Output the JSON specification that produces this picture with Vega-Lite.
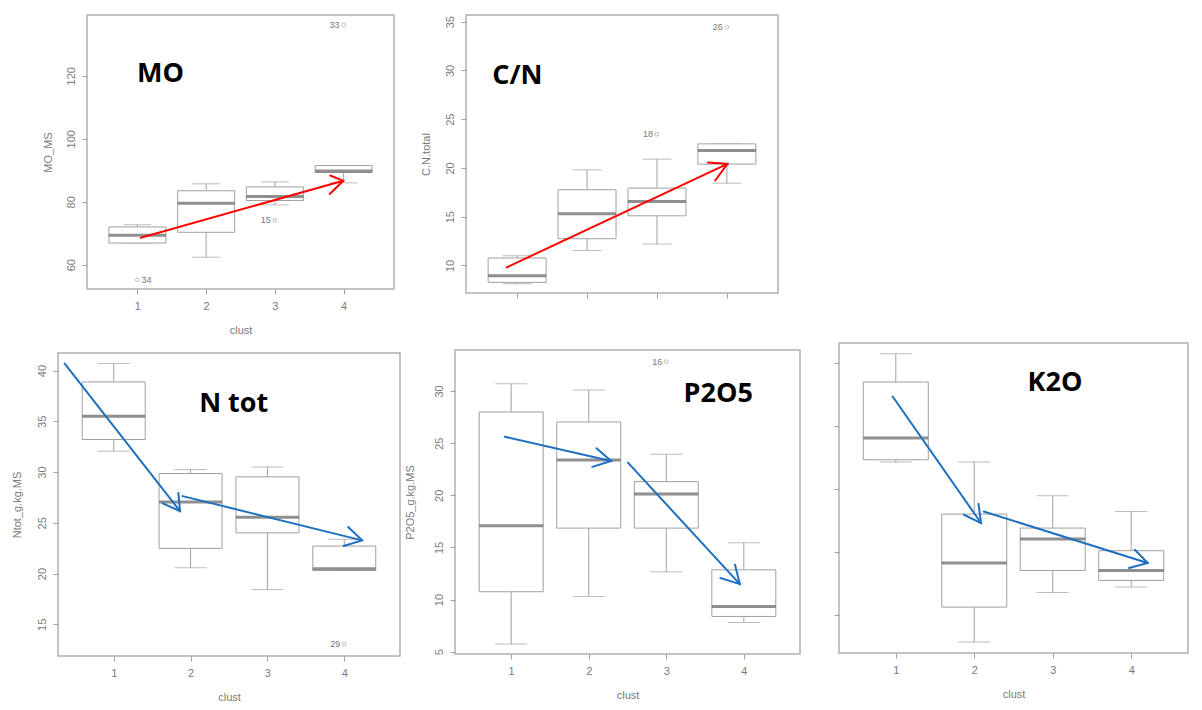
{
  "$schema": "https://vega.github.io/schema/vega-lite/v6.json",
  "padding": {"left": 10, "top": 14, "right": 5, "bottom": 5},
  "background": "white",
  "spacing": 6,
  "datasets": {
    "boxes": [
      {"panel": "MO", "clust": 1, "lower": 66.9, "q1": 66.9, "median": 69.4, "q3": 72.0, "upper": 72.7},
      {"panel": "MO", "clust": 2, "lower": 62.4, "q1": 70.3, "median": 79.5, "q3": 83.5, "upper": 85.7},
      {"panel": "MO", "clust": 3, "lower": 79.0, "q1": 80.4, "median": 81.7, "q3": 84.7, "upper": 86.3},
      {"panel": "MO", "clust": 4, "lower": 86.0, "q1": 89.3, "median": 89.8, "q3": 91.5, "upper": 91.5},
      {"panel": "CN", "clust": 1, "lower": 8.12, "q1": 8.26, "median": 8.94, "q3": 10.76, "upper": 10.99},
      {"panel": "CN", "clust": 2, "lower": 11.54, "q1": 12.74, "median": 15.30, "q3": 17.76, "upper": 19.81},
      {"panel": "CN", "clust": 3, "lower": 12.19, "q1": 15.09, "median": 16.56, "q3": 17.93, "upper": 20.90},
      {"panel": "CN", "clust": 4, "lower": 18.44, "q1": 20.39, "median": 21.78, "q3": 22.47, "upper": 22.47},
      {"panel": "NTOT", "clust": 1, "lower": 32.06, "q1": 33.21, "median": 35.50, "q3": 38.88, "upper": 40.69},
      {"panel": "NTOT", "clust": 2, "lower": 20.57, "q1": 22.48, "median": 27.04, "q3": 29.86, "upper": 30.26},
      {"panel": "NTOT", "clust": 3, "lower": 18.44, "q1": 24.01, "median": 25.56, "q3": 29.53, "upper": 30.51},
      {"panel": "NTOT", "clust": 4, "lower": 20.31, "q1": 20.31, "median": 20.47, "q3": 22.71, "upper": 23.37},
      {"panel": "P2O5", "clust": 1, "lower": 5.74, "q1": 10.75, "median": 17.07, "q3": 27.99, "upper": 30.70},
      {"panel": "P2O5", "clust": 2, "lower": 10.30, "q1": 16.85, "median": 23.39, "q3": 27.03, "upper": 30.10},
      {"panel": "P2O5", "clust": 3, "lower": 12.66, "q1": 16.85, "median": 20.13, "q3": 21.31, "upper": 23.94},
      {"panel": "P2O5", "clust": 4, "lower": 7.81, "q1": 8.38, "median": 9.34, "q3": 12.85, "upper": 15.44},
      {"panel": "K2O", "clust": 1, "lower": 17.14, "q1": 17.32, "median": 19.05, "q3": 23.50, "upper": 25.75},
      {"panel": "K2O", "clust": 2, "lower": 2.83, "q1": 5.61, "median": 9.11, "q3": 13.00, "upper": 17.14},
      {"panel": "K2O", "clust": 3, "lower": 6.77, "q1": 8.52, "median": 11.02, "q3": 11.89, "upper": 14.46},
      {"panel": "K2O", "clust": 4, "lower": 7.20, "q1": 7.73, "median": 8.52, "q3": 10.09, "upper": 13.21}
    ],
    "outliers": [
      {"panel": "MO", "clust": 4, "value": 136.2, "id": "33"},
      {"panel": "MO", "clust": 1, "value": 55.2, "id": "34"},
      {"panel": "MO", "clust": 3, "value": 74.1, "id": "15"},
      {"panel": "CN", "clust": 3, "value": 23.46, "id": "18"},
      {"panel": "CN", "clust": 4, "value": 34.43, "id": "26"},
      {"panel": "NTOT", "clust": 4, "value": 13.03, "id": "29"},
      {"panel": "P2O5", "clust": 3, "value": 32.81, "id": "16"}
    ],
    "arrows": [
      {"panel": "MO", "seg": "s1", "ord": 1, "x": 1.05, "y": 68.57},
      {"panel": "MO", "seg": "s1", "ord": 2, "x": 3.994, "y": 86.67},
      {"panel": "MO", "seg": "h1", "ord": 1, "x": 3.805, "y": 88.35},
      {"panel": "MO", "seg": "h1", "ord": 2, "x": 3.994, "y": 86.67},
      {"panel": "MO", "seg": "h1", "ord": 3, "x": 3.798, "y": 82.44},
      {"panel": "CN", "seg": "s1", "ord": 1, "x": 0.85, "y": 9.80},
      {"panel": "CN", "seg": "s1", "ord": 2, "x": 4.008, "y": 20.42},
      {"panel": "CN", "seg": "h1", "ord": 1, "x": 3.731, "y": 20.55},
      {"panel": "CN", "seg": "h1", "ord": 2, "x": 4.008, "y": 20.42},
      {"panel": "CN", "seg": "h1", "ord": 3, "x": 3.833, "y": 18.71},
      {"panel": "NTOT", "seg": "s1", "ord": 1, "x": 0.362, "y": 40.69},
      {"panel": "NTOT", "seg": "s1", "ord": 2, "x": 1.863, "y": 26.15},
      {"panel": "NTOT", "seg": "h1", "ord": 1, "x": 1.638, "y": 26.91},
      {"panel": "NTOT", "seg": "h1", "ord": 2, "x": 1.863, "y": 26.15},
      {"panel": "NTOT", "seg": "h1", "ord": 3, "x": 1.841, "y": 27.95},
      {"panel": "NTOT", "seg": "s2", "ord": 1, "x": 1.897, "y": 27.63},
      {"panel": "NTOT", "seg": "s2", "ord": 2, "x": 4.232, "y": 23.27},
      {"panel": "NTOT", "seg": "h2", "ord": 1, "x": 4.05, "y": 24.58},
      {"panel": "NTOT", "seg": "h2", "ord": 2, "x": 4.232, "y": 23.27},
      {"panel": "NTOT", "seg": "h2", "ord": 3, "x": 3.991, "y": 22.71},
      {"panel": "P2O5", "seg": "s1", "ord": 1, "x": 0.917, "y": 25.62},
      {"panel": "P2O5", "seg": "s1", "ord": 2, "x": 2.289, "y": 23.29},
      {"panel": "P2O5", "seg": "h1", "ord": 1, "x": 2.1, "y": 24.51},
      {"panel": "P2O5", "seg": "h1", "ord": 2, "x": 2.289, "y": 23.29},
      {"panel": "P2O5", "seg": "h1", "ord": 3, "x": 2.046, "y": 22.72},
      {"panel": "P2O5", "seg": "s2", "ord": 1, "x": 2.506, "y": 23.13},
      {"panel": "P2O5", "seg": "s2", "ord": 2, "x": 3.949, "y": 11.48},
      {"panel": "P2O5", "seg": "h2", "ord": 1, "x": 3.886, "y": 13.33},
      {"panel": "P2O5", "seg": "h2", "ord": 2, "x": 3.949, "y": 11.48},
      {"panel": "P2O5", "seg": "h2", "ord": 3, "x": 3.698, "y": 12.06},
      {"panel": "K2O", "seg": "s1", "ord": 1, "x": 0.96, "y": 22.35},
      {"panel": "K2O", "seg": "s1", "ord": 2, "x": 2.086, "y": 12.29},
      {"panel": "K2O", "seg": "h1", "ord": 1, "x": 1.868, "y": 12.95},
      {"panel": "K2O", "seg": "h1", "ord": 2, "x": 2.086, "y": 12.29},
      {"panel": "K2O", "seg": "h1", "ord": 3, "x": 2.054, "y": 13.82},
      {"panel": "K2O", "seg": "s2", "ord": 1, "x": 2.12, "y": 13.21},
      {"panel": "K2O", "seg": "s2", "ord": 2, "x": 4.21, "y": 9.11},
      {"panel": "K2O", "seg": "h2", "ord": 1, "x": 4.046, "y": 10.17},
      {"panel": "K2O", "seg": "h2", "ord": 2, "x": 4.21, "y": 9.11},
      {"panel": "K2O", "seg": "h2", "ord": 3, "x": 3.972, "y": 8.71}
    ]
  },
  "vconcat": [
    {
      "spacing": -18,
      "hconcat": [
        {"width": 1, "height": 1, "view": {"stroke": null}, "data": {"values": [{}]}, "mark": {"type": "text", "text": "", "fontSize": 0}, "encoding": {"x": {"value": 0}, "y": {"value": 0}}},
        {
          "spacing": 24,
          "hconcat": [
            {
              "width": 307, "height": 274,
              "layer": [
                {"data": {"name": "boxes"}, "transform": [{"filter": "datum.panel == 'MO'"}],
                 "layer": [
                  {"mark": {"type": "rule", "color": "#a0a0a0", "strokeWidth": 1},
                   "encoding": {
                     "x": {"field": "clust", "type": "quantitative", "scale": {"domain": [0.34, 4.66], "nice": false, "zero": false}, "axis": {"values": [1, 2, 3, 4], "format": "d", "title": "clust"}},
                     "y": {"field": "lower", "type": "quantitative", "scale": {"domain": [52.3, 139.3], "nice": false, "zero": false}, "axis": {"values": [60, 80, 100, 120], "title": "MO_MS", "titlePadding": 12}},
                     "y2": {"field": "upper"}}},
                  {"mark": {"type": "tick", "orient": "horizontal", "size": 28, "thickness": 1, "color": "#a0a0a0"},
                   "encoding": {"x": {"field": "clust", "type": "quantitative"}, "y": {"field": "lower", "type": "quantitative"}}},
                  {"mark": {"type": "tick", "orient": "horizontal", "size": 28, "thickness": 1, "color": "#a0a0a0"},
                   "encoding": {"x": {"field": "clust", "type": "quantitative"}, "y": {"field": "upper", "type": "quantitative"}}},
                  {"mark": {"type": "bar", "width": 57, "fill": "white", "stroke": "#a0a0a0", "strokeWidth": 1},
                   "encoding": {"x": {"field": "clust", "type": "quantitative"}, "y": {"field": "q1", "type": "quantitative"}, "y2": {"field": "q3"}}},
                  {"mark": {"type": "tick", "orient": "horizontal", "size": 57, "thickness": 3, "color": "#606060"},
                   "encoding": {"x": {"field": "clust", "type": "quantitative"}, "y": {"field": "median", "type": "quantitative"}}}
                 ]},
                {"data": {"name": "outliers"}, "transform": [{"filter": "datum.panel == 'MO'"}],
                 "layer": [
                  {"mark": {"type": "point", "shape": "circle", "filled": false, "size": 14, "color": "#8a8a8a", "strokeWidth": 0.8},
                   "encoding": {"x": {"field": "clust", "type": "quantitative"}, "y": {"field": "value", "type": "quantitative"}}},
                  {"transform": [{"filter": "datum.id != '34'"}],
                   "mark": {"type": "text", "align": "right", "baseline": "middle", "dx": -4, "fontSize": 9, "color": "#777777", "font": "Liberation Sans"},
                   "encoding": {"x": {"field": "clust", "type": "quantitative"}, "y": {"field": "value", "type": "quantitative"}, "text": {"field": "id"}}},
                  {"transform": [{"filter": "datum.id == '34'"}],
                   "mark": {"type": "text", "align": "left", "baseline": "middle", "dx": 4, "fontSize": 9, "color": "#777777", "font": "Liberation Sans"},
                   "encoding": {"x": {"field": "clust", "type": "quantitative"}, "y": {"field": "value", "type": "quantitative"}, "text": {"field": "id"}}}
                 ]},
                {"data": {"name": "arrows"}, "transform": [{"filter": "datum.panel == 'MO'"}],
                 "mark": {"type": "line", "color": "#ff0000", "strokeWidth": 2, "strokeCap": "round"},
                 "encoding": {"x": {"field": "x", "type": "quantitative"}, "y": {"field": "y", "type": "quantitative"}, "detail": {"field": "seg"}, "order": {"field": "ord"}}},
                {"data": {"values": [{}]},
                 "mark": {"type": "text", "text": "MO", "font": "Open Sans", "fontWeight": "bold", "fontSize": 27, "color": "#000000", "align": "center", "baseline": "middle"},
                 "encoding": {"x": {"datum": 1.337, "type": "quantitative"}, "y": {"datum": 120.5, "type": "quantitative"}}}
              ]
            },
            {
              "width": 312, "height": 278,
              "layer": [
                {"data": {"name": "boxes"}, "transform": [{"filter": "datum.panel == 'CN'"}],
                 "layer": [
                  {"mark": {"type": "rule", "color": "#a0a0a0", "strokeWidth": 1},
                   "encoding": {
                     "x": {"field": "clust", "type": "quantitative", "scale": {"domain": [0.34, 4.66], "nice": false, "zero": false}, "axis": {"values": [1, 2, 3, 4], "labels": false, "title": null}},
                     "y": {"field": "lower", "type": "quantitative", "scale": {"domain": [7.17, 35.69], "nice": false, "zero": false}, "axis": {"values": [10, 15, 20, 25, 30, 35], "title": "C.N.total", "titlePadding": 13}},
                     "y2": {"field": "upper"}}},
                  {"mark": {"type": "tick", "orient": "horizontal", "size": 29, "thickness": 1, "color": "#a0a0a0"},
                   "encoding": {"x": {"field": "clust", "type": "quantitative"}, "y": {"field": "lower", "type": "quantitative"}}},
                  {"mark": {"type": "tick", "orient": "horizontal", "size": 29, "thickness": 1, "color": "#a0a0a0"},
                   "encoding": {"x": {"field": "clust", "type": "quantitative"}, "y": {"field": "upper", "type": "quantitative"}}},
                  {"mark": {"type": "bar", "width": 58, "fill": "white", "stroke": "#a0a0a0", "strokeWidth": 1},
                   "encoding": {"x": {"field": "clust", "type": "quantitative"}, "y": {"field": "q1", "type": "quantitative"}, "y2": {"field": "q3"}}},
                  {"mark": {"type": "tick", "orient": "horizontal", "size": 58, "thickness": 3, "color": "#606060"},
                   "encoding": {"x": {"field": "clust", "type": "quantitative"}, "y": {"field": "median", "type": "quantitative"}}}
                 ]},
                {"data": {"name": "outliers"}, "transform": [{"filter": "datum.panel == 'CN'"}],
                 "layer": [
                  {"mark": {"type": "point", "shape": "circle", "filled": false, "size": 14, "color": "#8a8a8a", "strokeWidth": 0.8},
                   "encoding": {"x": {"field": "clust", "type": "quantitative"}, "y": {"field": "value", "type": "quantitative"}}},
                  {"mark": {"type": "text", "align": "right", "baseline": "middle", "dx": -4, "fontSize": 9, "color": "#777777", "font": "Liberation Sans"},
                   "encoding": {"x": {"field": "clust", "type": "quantitative"}, "y": {"field": "value", "type": "quantitative"}, "text": {"field": "id"}}}
                 ]},
                {"data": {"name": "arrows"}, "transform": [{"filter": "datum.panel == 'CN'"}],
                 "mark": {"type": "line", "color": "#ff0000", "strokeWidth": 2, "strokeCap": "round"},
                 "encoding": {"x": {"field": "x", "type": "quantitative"}, "y": {"field": "y", "type": "quantitative"}, "detail": {"field": "seg"}, "order": {"field": "ord"}}},
                {"data": {"values": [{}]},
                 "mark": {"type": "text", "text": "C/N", "font": "Open Sans", "fontWeight": "bold", "fontSize": 27, "color": "#000000", "align": "center", "baseline": "middle"},
                 "encoding": {"x": {"datum": 1.004, "type": "quantitative"}, "y": {"datum": 29.44, "type": "quantitative"}}}
              ]
            }
          ]
        }
      ]
    },
    {
      "spacing": 2,
      "hconcat": [
        {
          "spacing": 0,
          "vconcat": [
            {"width": 1, "height": 9, "view": {"stroke": null}, "data": {"values": [{}]}, "mark": {"type": "text", "text": "", "fontSize": 0}, "encoding": {"x": {"value": 0}, "y": {"value": 0}}},
            {
              "width": 342, "height": 303,
              "layer": [
                {"data": {"name": "boxes"}, "transform": [{"filter": "datum.panel == 'NTOT'"}],
                 "layer": [
                  {"mark": {"type": "rule", "color": "#a0a0a0", "strokeWidth": 1},
                   "encoding": {
                     "x": {"field": "clust", "type": "quantitative", "scale": {"domain": [0.34, 4.66], "nice": false, "zero": false}, "axis": {"values": [1, 2, 3, 4], "format": "d", "title": "clust"}},
                     "y": {"field": "lower", "type": "quantitative", "scale": {"domain": [11.88, 41.73], "nice": false, "zero": false}, "axis": {"values": [15, 20, 25, 30, 35, 40], "title": "Ntot_g.kg.MS", "titlePadding": 14}},
                     "y2": {"field": "upper"}}},
                  {"mark": {"type": "tick", "orient": "horizontal", "size": 32, "thickness": 1, "color": "#a0a0a0"},
                   "encoding": {"x": {"field": "clust", "type": "quantitative"}, "y": {"field": "lower", "type": "quantitative"}}},
                  {"mark": {"type": "tick", "orient": "horizontal", "size": 32, "thickness": 1, "color": "#a0a0a0"},
                   "encoding": {"x": {"field": "clust", "type": "quantitative"}, "y": {"field": "upper", "type": "quantitative"}}},
                  {"mark": {"type": "bar", "width": 63, "fill": "white", "stroke": "#a0a0a0", "strokeWidth": 1},
                   "encoding": {"x": {"field": "clust", "type": "quantitative"}, "y": {"field": "q1", "type": "quantitative"}, "y2": {"field": "q3"}}},
                  {"mark": {"type": "tick", "orient": "horizontal", "size": 63, "thickness": 3, "color": "#606060"},
                   "encoding": {"x": {"field": "clust", "type": "quantitative"}, "y": {"field": "median", "type": "quantitative"}}}
                 ]},
                {"data": {"name": "outliers"}, "transform": [{"filter": "datum.panel == 'NTOT'"}],
                 "layer": [
                  {"mark": {"type": "point", "shape": "circle", "filled": false, "size": 14, "color": "#8a8a8a", "strokeWidth": 0.8},
                   "encoding": {"x": {"field": "clust", "type": "quantitative"}, "y": {"field": "value", "type": "quantitative"}}},
                  {"mark": {"type": "text", "align": "right", "baseline": "middle", "dx": -4, "fontSize": 9, "color": "#777777", "font": "Liberation Sans"},
                   "encoding": {"x": {"field": "clust", "type": "quantitative"}, "y": {"field": "value", "type": "quantitative"}, "text": {"field": "id"}}}
                 ]},
                {"data": {"name": "arrows"}, "transform": [{"filter": "datum.panel == 'NTOT'"}],
                 "mark": {"type": "line", "color": "#1f70c1", "strokeWidth": 2, "strokeCap": "round"},
                 "encoding": {"x": {"field": "x", "type": "quantitative"}, "y": {"field": "y", "type": "quantitative"}, "detail": {"field": "seg"}, "order": {"field": "ord"}}},
                {"data": {"values": [{}]},
                 "mark": {"type": "text", "text": "N tot", "font": "Open Sans", "fontWeight": "bold", "fontSize": 27, "color": "#000000", "align": "center", "baseline": "middle"},
                 "encoding": {"x": {"datum": 2.561, "type": "quantitative"}, "y": {"datum": 36.68, "type": "quantitative"}}}
              ]
            }
          ]
        },
        {
          "spacing": 31,
          "hconcat": [
            {
              "spacing": 0,
              "vconcat": [
                {"width": 1, "height": 6, "view": {"stroke": null}, "data": {"values": [{}]}, "mark": {"type": "text", "text": "", "fontSize": 0}, "encoding": {"x": {"value": 0}, "y": {"value": 0}}},
                {
                  "width": 345, "height": 304,
                  "layer": [
                    {"data": {"name": "boxes"}, "transform": [{"filter": "datum.panel == 'P2O5'"}],
                     "layer": [
                      {"mark": {"type": "rule", "color": "#a0a0a0", "strokeWidth": 1},
                       "encoding": {
                         "x": {"field": "clust", "type": "quantitative", "scale": {"domain": [0.34, 4.66], "nice": false, "zero": false}, "axis": {"values": [1, 2, 3, 4], "format": "d", "title": "clust"}},
                         "y": {"field": "lower", "type": "quantitative", "scale": {"domain": [4.78, 33.93], "nice": false, "zero": false}, "axis": {"values": [5, 10, 15, 20, 25, 30], "title": "P2O5_g.kg.MS", "titlePadding": 18}},
                         "y2": {"field": "upper"}}},
                      {"mark": {"type": "tick", "orient": "horizontal", "size": 32, "thickness": 1, "color": "#a0a0a0"},
                       "encoding": {"x": {"field": "clust", "type": "quantitative"}, "y": {"field": "lower", "type": "quantitative"}}},
                      {"mark": {"type": "tick", "orient": "horizontal", "size": 32, "thickness": 1, "color": "#a0a0a0"},
                       "encoding": {"x": {"field": "clust", "type": "quantitative"}, "y": {"field": "upper", "type": "quantitative"}}},
                      {"mark": {"type": "bar", "width": 64, "fill": "white", "stroke": "#a0a0a0", "strokeWidth": 1},
                       "encoding": {"x": {"field": "clust", "type": "quantitative"}, "y": {"field": "q1", "type": "quantitative"}, "y2": {"field": "q3"}}},
                      {"mark": {"type": "tick", "orient": "horizontal", "size": 64, "thickness": 3, "color": "#606060"},
                       "encoding": {"x": {"field": "clust", "type": "quantitative"}, "y": {"field": "median", "type": "quantitative"}}}
                     ]},
                    {"data": {"name": "outliers"}, "transform": [{"filter": "datum.panel == 'P2O5'"}],
                     "layer": [
                      {"mark": {"type": "point", "shape": "circle", "filled": false, "size": 14, "color": "#8a8a8a", "strokeWidth": 0.8},
                       "encoding": {"x": {"field": "clust", "type": "quantitative"}, "y": {"field": "value", "type": "quantitative"}}},
                      {"mark": {"type": "text", "align": "right", "baseline": "middle", "dx": -4, "fontSize": 9, "color": "#777777", "font": "Liberation Sans"},
                       "encoding": {"x": {"field": "clust", "type": "quantitative"}, "y": {"field": "value", "type": "quantitative"}, "text": {"field": "id"}}}
                     ]},
                    {"data": {"name": "arrows"}, "transform": [{"filter": "datum.panel == 'P2O5'"}],
                     "mark": {"type": "line", "color": "#1f70c1", "strokeWidth": 2, "strokeCap": "round"},
                     "encoding": {"x": {"field": "x", "type": "quantitative"}, "y": {"field": "y", "type": "quantitative"}, "detail": {"field": "seg"}, "order": {"field": "ord"}}},
                    {"data": {"values": [{}]},
                     "mark": {"type": "text", "text": "P2O5", "font": "Open Sans", "fontWeight": "bold", "fontSize": 27, "color": "#000000", "align": "center", "baseline": "middle"},
                     "encoding": {"x": {"datum": 3.669, "type": "quantitative"}, "y": {"datum": 29.68, "type": "quantitative"}}}
                  ]
                }
              ]
            },
            {
              "width": 349, "height": 310,
              "layer": [
                {"data": {"name": "boxes"}, "transform": [{"filter": "datum.panel == 'K2O'"}],
                 "layer": [
                  {"mark": {"type": "rule", "color": "#a0a0a0", "strokeWidth": 1},
                   "encoding": {
                     "x": {"field": "clust", "type": "quantitative", "scale": {"domain": [0.34, 4.66], "nice": false, "zero": false}, "axis": {"values": [1, 2, 3, 4], "format": "d", "title": "clust"}},
                     "y": {"field": "lower", "type": "quantitative", "scale": {"domain": [1.96, 26.6], "nice": false, "zero": false}, "axis": {"values": [5, 10, 15, 20, 25], "labels": false, "title": null}},
                     "y2": {"field": "upper"}}},
                  {"mark": {"type": "tick", "orient": "horizontal", "size": 32, "thickness": 1, "color": "#a0a0a0"},
                   "encoding": {"x": {"field": "clust", "type": "quantitative"}, "y": {"field": "lower", "type": "quantitative"}}},
                  {"mark": {"type": "tick", "orient": "horizontal", "size": 32, "thickness": 1, "color": "#a0a0a0"},
                   "encoding": {"x": {"field": "clust", "type": "quantitative"}, "y": {"field": "upper", "type": "quantitative"}}},
                  {"mark": {"type": "bar", "width": 65, "fill": "white", "stroke": "#a0a0a0", "strokeWidth": 1},
                   "encoding": {"x": {"field": "clust", "type": "quantitative"}, "y": {"field": "q1", "type": "quantitative"}, "y2": {"field": "q3"}}},
                  {"mark": {"type": "tick", "orient": "horizontal", "size": 65, "thickness": 3, "color": "#606060"},
                   "encoding": {"x": {"field": "clust", "type": "quantitative"}, "y": {"field": "median", "type": "quantitative"}}}
                 ]},
                {"data": {"name": "arrows"}, "transform": [{"filter": "datum.panel == 'K2O'"}],
                 "mark": {"type": "line", "color": "#1f70c1", "strokeWidth": 2, "strokeCap": "round"},
                 "encoding": {"x": {"field": "x", "type": "quantitative"}, "y": {"field": "y", "type": "quantitative"}, "detail": {"field": "seg"}, "order": {"field": "ord"}}},
                {"data": {"values": [{}]},
                 "mark": {"type": "text", "text": "K2O", "font": "Open Sans", "fontWeight": "bold", "fontSize": 27, "color": "#000000", "align": "center", "baseline": "middle"},
                 "encoding": {"x": {"datum": 3.029, "type": "quantitative"}, "y": {"datum": 23.39, "type": "quantitative"}}}
              ]
            }
          ]
        }
      ]
    }
  ],
  "config": {
    "view": {"stroke": "#b0b0b0", "strokeWidth": 1.5},
    "axis": {"domain": false, "grid": false, "ticks": true, "tickColor": "#a0a0a0", "tickSize": 5, "tickWidth": 1, "labelColor": "#7a7a7a", "labelFont": "Liberation Sans", "labelFontSize": 11, "titleFont": "Liberation Sans", "titleFontSize": 11, "titleFontWeight": "normal", "titleColor": "#7a7a7a", "labelOverlap": false, "labelFlush": false},
    "axisX": {"labelPadding": 6, "titlePadding": 13},
    "axisY": {"labelAngle": -90, "labelAlign": "center", "labelBaseline": "bottom", "labelPadding": 6}
  }
}
